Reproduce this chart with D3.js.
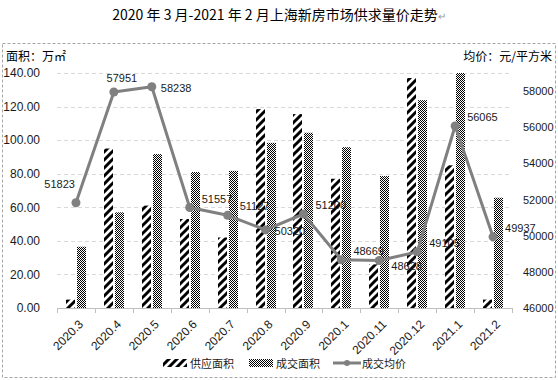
<!DOCTYPE html>
<html><head><meta charset="utf-8">
<script src="https://cdn.jsdelivr.net/npm/d3@7"></script>
<style>body{margin:0;background:#fff}svg{display:block}text{font-family:"Liberation Sans","Noto Sans CJK SC",sans-serif}</style>
</head><body><svg id="c" width="558" height="380"></svg>
<script>
const categories = ["2020.3","2020.4","2020.5","2020.6","2020.7","2020.8","2020.9","2020.1","2020.11","2020.12","2021.1","2021.2"];
const supplyArea = [5, 95, 61, 53, 42, 118.5, 115.5, 77, 26, 137, 85, 5];
const dealArea = [36.5, 57, 91.7, 81, 81.7, 98.4, 104.4, 95.8, 78.6, 123.8, 140, 65.7];
const avgPrice = [51823, 57951, 58238, 51557, 51127, 50320, 51200, 48669, 48628, 49105, 56065, 49937];
const leftTicks = [0, 20, 40, 60, 80, 100, 120, 140];
const rightTicks = [46000, 48000, 50000, 52000, 54000, 56000, 58000];
const labelPlace = ["left-up","above","right","right-up","right-up","right","right-up","right-up","right-down","right-up","right-up","right-up"];

const svg = d3.select("#c");
const defs = svg.append("defs");
const hp = defs.append("pattern").attr("id","hatch").attr("patternUnits","userSpaceOnUse").attr("width",8).attr("height",8);
hp.append("rect").attr("width",8).attr("height",8).attr("fill","#fff");
hp.append("path").attr("d","M-2,10 L10,-2 M-4,4 L4,-4 M4,12 L12,4").attr("stroke","#000").attr("stroke-width",3);
const cp = defs.append("pattern").attr("id","check").attr("patternUnits","userSpaceOnUse").attr("width",2).attr("height",2);
cp.append("rect").attr("width",2).attr("height",2).attr("fill","#fff");
cp.append("rect").attr("width",1).attr("height",1).attr("fill","#000").attr("shape-rendering","crispEdges");
cp.append("rect").attr("x",1).attr("y",1).attr("width",1).attr("height",1).attr("fill","#000").attr("shape-rendering","crispEdges");

// border
svg.append("rect").attr("x",2.5).attr("y",43.5).attr("width",553).attr("height",334)
  .attr("fill","none").attr("stroke","#a6a6a6").attr("stroke-dasharray","3,2");

// title
const t = svg.append("text").attr("x",279).attr("y",20).attr("text-anchor","middle")
  .attr("font-size",14).attr("fill","#000").style("font-family","'Noto Sans CJK SC',sans-serif");
t.append("tspan").text("2020 年 3 月-2021 年 2 月上海新房市场供求量价走势");
t.append("tspan").attr("fill","#999").attr("font-size",10).text("↵");

svg.append("text").attr("x",6).attr("y",61).attr("font-size",12).attr("fill","#000")
  .style("font-family","'Noto Sans CJK SC',sans-serif").text("面积：万㎡");
svg.append("text").attr("x",552).attr("y",61).attr("text-anchor","end").attr("font-size",12).attr("fill","#000")
  .style("font-family","'Noto Sans CJK SC',sans-serif").text("均价：元/平方米");

const x = d3.scaleBand().domain(categories).range([57, 512]);
const yL = d3.scaleLinear().domain([0, 140]).range([308, 73]);
const yR = d3.scaleLinear().domain([46000, 59000]).range([308, 73]);

// grid
svg.append("g").selectAll("line").data(leftTicks.slice(1)).join("line")
  .attr("x1",57).attr("x2",512).attr("y1",d=>Math.round(yL(d))+0.5).attr("y2",d=>Math.round(yL(d))+0.5)
  .attr("stroke","#d9d9d9").attr("stroke-dasharray","4,3");

// left axis
const gL = svg.append("g").attr("transform","translate(40,0)")
  .call(d3.axisLeft(yL).tickValues(leftTicks).tickFormat(d3.format(".2f")).tickSize(0));
gL.select(".domain").remove();
gL.selectAll("text").attr("x",0).attr("font-size",12).attr("fill","#1a1a1a").style("font-family","'Liberation Sans',sans-serif");

// right axis
const gR = svg.append("g").attr("transform","translate(523,0)")
  .call(d3.axisRight(yR).tickValues(rightTicks).tickFormat(d3.format("d")).tickSize(0));
gR.select(".domain").remove();
gR.selectAll("text").attr("x",0).attr("font-size",11).attr("fill","#1a1a1a").style("font-family","'Liberation Sans',sans-serif");

// bars
const bw = x.bandwidth();
const barW = 9;
svg.append("g").selectAll("rect").data(categories).join("rect")
  .attr("x",(d)=>Math.round(x(d)+bw/2-barW-1)).attr("width",barW)
  .attr("y",(d,i)=>yL(supplyArea[i])).attr("height",(d,i)=>308-yL(supplyArea[i]))
  .attr("fill","url(#hatch)");
svg.append("g").selectAll("rect").data(categories).join("rect")
  .attr("x",(d)=>Math.round(x(d)+bw/2+1)).attr("width",barW)
  .attr("y",(d,i)=>yL(dealArea[i])).attr("height",(d,i)=>308-yL(dealArea[i]))
  .attr("fill","url(#check)");

// x axis
const gX = svg.append("g").attr("transform","translate(0,308)")
  .call(d3.axisBottom(x).tickSize(0));
gX.select(".domain").attr("stroke","#bfbfbf");
gX.selectAll("text").attr("font-size",12).attr("fill","#1a1a1a").style("font-family","'Liberation Sans',sans-serif")
  .attr("text-anchor","end").attr("transform","translate(5,14) rotate(-45)").attr("dy","0.35em").attr("y",0);
svg.append("g").selectAll("line").data(categories.concat(["_end"])).join("line")
  .attr("x1",(d,i)=>Math.round(57+i*bw)+0.5).attr("x2",(d,i)=>Math.round(57+i*bw)+0.5)
  .attr("y1",308).attr("y2",313).attr("stroke","#bfbfbf");

// line
const line = d3.line().x((d,i)=>x(categories[i])+bw/2).y(d=>yR(d));
svg.append("path").datum(avgPrice).attr("d",line).attr("fill","none").attr("stroke","#808080").attr("stroke-width",3).attr("stroke-linejoin","round");
svg.append("g").selectAll("circle").data(avgPrice).join("circle")
  .attr("cx",(d,i)=>x(categories[i])+bw/2).attr("cy",d=>yR(d)).attr("r",4.5).attr("fill","#808080");

const place = {
  "left-up":{dx:-1,dy:-15,a:"end"},
  "above":{dx:8,dy:-10,a:"middle"},
  "right":{dx:9,dy:5,a:"start"},
  "right-up":{dx:12,dy:-5,a:"start"},
  "right-down":{dx:12,dy:10,a:"start"}
};
svg.append("g").selectAll("text").data(avgPrice).join("text")
  .attr("x",(d,i)=>x(categories[i])+bw/2+place[labelPlace[i]].dx)
  .attr("y",(d,i)=>yR(d)+place[labelPlace[i]].dy)
  .attr("text-anchor",(d,i)=>place[labelPlace[i]].a)
  .attr("font-size",11).attr("fill","#1a1a1a").text(d=>d);

// legend
const lg = svg.append("g");
lg.append("rect").attr("x",163).attr("y",359).attr("width",24).attr("height",8).attr("fill","url(#hatch)");
lg.append("text").attr("x",190).attr("y",367.5).attr("font-size",11).style("font-family","'Noto Sans CJK SC',sans-serif").attr("fill","#1a1a1a").text("供应面积");
lg.append("rect").attr("x",249).attr("y",359).attr("width",24).attr("height",8).attr("fill","url(#check)");
lg.append("text").attr("x",276).attr("y",367.5).attr("font-size",11).style("font-family","'Noto Sans CJK SC',sans-serif").attr("fill","#1a1a1a").text("成交面积");
lg.append("line").attr("x1",333).attr("x2",361).attr("y1",363).attr("y2",363).attr("stroke","#808080").attr("stroke-width",3);
lg.append("circle").attr("cx",347).attr("cy",363).attr("r",3).attr("fill","#808080");
lg.append("text").attr("x",362).attr("y",367.5).attr("font-size",11).style("font-family","'Noto Sans CJK SC',sans-serif").attr("fill","#1a1a1a").text("成交均价");
</script></body></html>
